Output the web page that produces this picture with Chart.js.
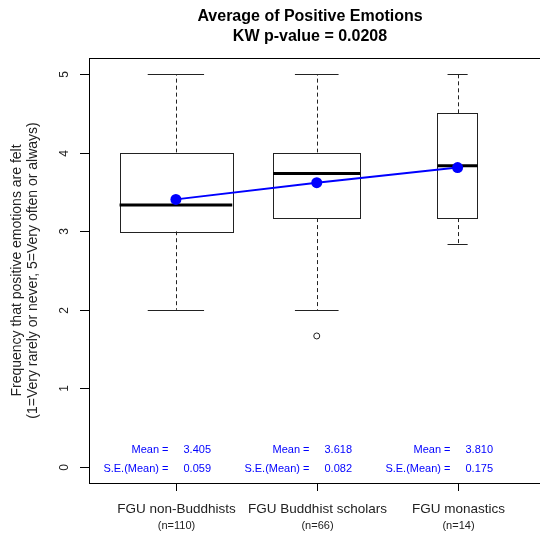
<!DOCTYPE html>
<html>
<head>
<meta charset="utf-8">
<script src="https://cdn.jsdelivr.net/npm/chart.js@4.4.1/dist/chart.umd.min.js"></script>
<style>
  html, body { margin: 0; padding: 0; background: #fff; overflow: hidden; }
  #box { position: absolute; left: 0; top: 0; }
</style>
</head>
<body>
<canvas id="box" width="550" height="535"></canvas>
<script>
// data
const groups = ["FGU non-Buddhists", "FGU Buddhist scholars", "FGU monastics"];
const counts = [110, 66, 14];
const whiskerLow = [2, 2, 2.833];
const q1 = [3, 3.167, 3.167];
const medians = [3.333, 3.733, 3.833];
const q3 = [4, 4, 4.5];
const whiskerHigh = [5, 5, 5];
const outliers = [[], [1.667], []];
const means = [3.405, 3.618, 3.810];
const seMeans = [0.059, 0.082, 0.175];
const yTicks = [0, 1, 2, 3, 4, 5];

const FONT = '"Liberation Sans", Arial, sans-serif';
const BLUE = "#0000ff";

// box widths like R varwidth: 0.8 * sqrt(n) / max sqrt(n)
const maxSqrt = Math.max(...counts.map(n => Math.sqrt(n)));
const halfWidths = counts.map(n => 0.4 * Math.sqrt(n) / maxSqrt);

const meanPoints = means.map((m, i) => ({ x: i + 1, y: m }));
const outlierPoints = [];
outliers.forEach((list, i) => list.forEach(v => outlierPoints.push({ x: i + 1, y: v })));

const boxPlugin = {
    id: "boxPlugin",
    beforeDatasetsDraw(chart) {
        const ctx = chart.ctx;
        const xs = chart.scales.x, ys = chart.scales.y;
        ctx.save();
        groups.forEach((g, i) => {
            const cx = xs.getPixelForValue(i + 1);
            const left = xs.getPixelForValue(i + 1 - halfWidths[i]);
            const right = xs.getPixelForValue(i + 1 + halfWidths[i]);
            const sL = xs.getPixelForValue(i + 1 - halfWidths[i] / 2);
            const sR = xs.getPixelForValue(i + 1 + halfWidths[i] / 2);
            const yq1 = ys.getPixelForValue(q1[i]);
            const yq3 = ys.getPixelForValue(q3[i]);
            const yMed = ys.getPixelForValue(medians[i]);
            const yLo = ys.getPixelForValue(whiskerLow[i]);
            const yHi = ys.getPixelForValue(whiskerHigh[i]);

            ctx.strokeStyle = "#222";
            ctx.lineWidth = 1;
            // whiskers (dashed)
            ctx.setLineDash([4, 3]);
            ctx.beginPath();
            ctx.moveTo(Math.round(cx) + 0.5, yq3);
            ctx.lineTo(Math.round(cx) + 0.5, yHi);
            ctx.moveTo(Math.round(cx) + 0.5, yq1);
            ctx.lineTo(Math.round(cx) + 0.5, yLo);
            ctx.stroke();
            ctx.setLineDash([]);
            // staples
            ctx.beginPath();
            ctx.moveTo(sL, Math.round(yHi) + 0.5);
            ctx.lineTo(sR, Math.round(yHi) + 0.5);
            ctx.moveTo(sL, Math.round(yLo) + 0.5);
            ctx.lineTo(sR, Math.round(yLo) + 0.5);
            ctx.stroke();
            // box
            ctx.fillStyle = "#fff";
            ctx.fillRect(left, yq3, right - left, yq1 - yq3);
            ctx.strokeRect(Math.round(left) + 0.5, Math.round(yq3) + 0.5,
                Math.round(right - left), Math.round(yq1 - yq3));
            // median
            ctx.strokeStyle = "#000";
            ctx.lineWidth = 3;
            ctx.beginPath();
            ctx.moveTo(left, yMed);
            ctx.lineTo(right, yMed);
            ctx.stroke();
        });
        ctx.restore();
    },
    afterDraw(chart) {
        const ctx = chart.ctx;
        const xs = chart.scales.x, ys = chart.scales.y;
        const a = chart.chartArea;
        ctx.save();
        // frame
        ctx.strokeStyle = "#000";
        ctx.lineWidth = 1;
        ctx.strokeRect(Math.round(a.left) + 0.5, Math.round(a.top) + 0.5,
            Math.round(a.right - a.left), Math.round(a.bottom - a.top));

        // y axis ticks and rotated labels
        ctx.fillStyle = "#222";
        ctx.font = "12px " + FONT;
        ctx.textAlign = "center";
        ctx.textBaseline = "middle";
        yTicks.forEach(v => {
            const py = Math.round(ys.getPixelForValue(v)) + 0.5;
            ctx.beginPath();
            ctx.moveTo(a.left - 9, py);
            ctx.lineTo(a.left, py);
            ctx.stroke();
            ctx.save();
            ctx.translate(65, py);
            ctx.rotate(-Math.PI / 2);
            ctx.fillText(String(v), 0, 0);
            ctx.restore();
        });

        // y axis title
        const midY = (a.top + a.bottom) / 2;
        ctx.save();
        ctx.font = "14px " + FONT;
        ctx.translate(17, midY);
        ctx.rotate(-Math.PI / 2);
        ctx.fillText("Frequency that positive emotions are felt", 0, 0);
        ctx.restore();
        ctx.save();
        ctx.font = "14px " + FONT;
        ctx.translate(33, midY);
        ctx.rotate(-Math.PI / 2);
        ctx.fillText("(1=Very rarely or never, 5=Very often or always)", 0, 0);
        ctx.restore();

        // x axis ticks and labels
        groups.forEach((g, i) => {
            const px = Math.round(xs.getPixelForValue(i + 1)) + 0.5;
            ctx.beginPath();
            ctx.moveTo(px, a.bottom);
            ctx.lineTo(px, a.bottom + 8);
            ctx.stroke();
            ctx.fillStyle = "#222";
            ctx.textAlign = "center";
            ctx.font = "13.5px " + FONT;
            ctx.fillText(g, px, 509);
            ctx.font = "11px " + FONT;
            ctx.fillText("(n=" + counts[i] + ")", px, 526);

            // mean and S.E. text
            ctx.fillStyle = BLUE;
            ctx.font = "11px " + FONT;
            const yM = ys.getPixelForValue(0.22);
            const yS = ys.getPixelForValue(-0.02);
            ctx.textAlign = "right";
            ctx.fillText("Mean =", px - 8, yM);
            ctx.fillText("S.E.(Mean) =", px - 8, yS);
            ctx.textAlign = "left";
            ctx.fillText(means[i].toFixed(3), px + 7, yM);
            ctx.fillText(seMeans[i].toFixed(3), px + 7, yS);
        });

        // title
        ctx.fillStyle = "#000";
        ctx.textAlign = "center";
        ctx.font = "bold 16px " + FONT;
        ctx.fillText("Average of Positive Emotions", 310, 17);
        ctx.fillText("KW p-value = 0.0208", 310, 37);
        ctx.restore();
    }
};

new Chart(document.getElementById("box"), {
    type: "line",
    data: {
        datasets: [
            {
                type: "line",
                data: meanPoints,
                borderColor: BLUE,
                borderWidth: 2,
                pointRadius: 5.5,
                pointBackgroundColor: BLUE,
                pointBorderWidth: 0,
                tension: 0,
                fill: false
            },
            {
                type: "scatter",
                data: outlierPoints,
                pointRadius: 3,
                pointStyle: "circle",
                backgroundColor: "#fff",
                borderColor: "#222",
                borderWidth: 1,
                showLine: false
            }
        ]
    },
    options: {
        responsive: false,
        animation: false,
        layout: { padding: { left: 89, top: 58, right: 5, bottom: 52 } },
        scales: {
            x: { type: "linear", min: 0.383, max: 3.617, display: false },
            y: { type: "linear", min: -0.204, max: 5.204, display: false }
        },
        plugins: { legend: { display: false }, tooltip: { enabled: false } }
    },
    plugins: [boxPlugin]
});
</script>
</body>
</html>
